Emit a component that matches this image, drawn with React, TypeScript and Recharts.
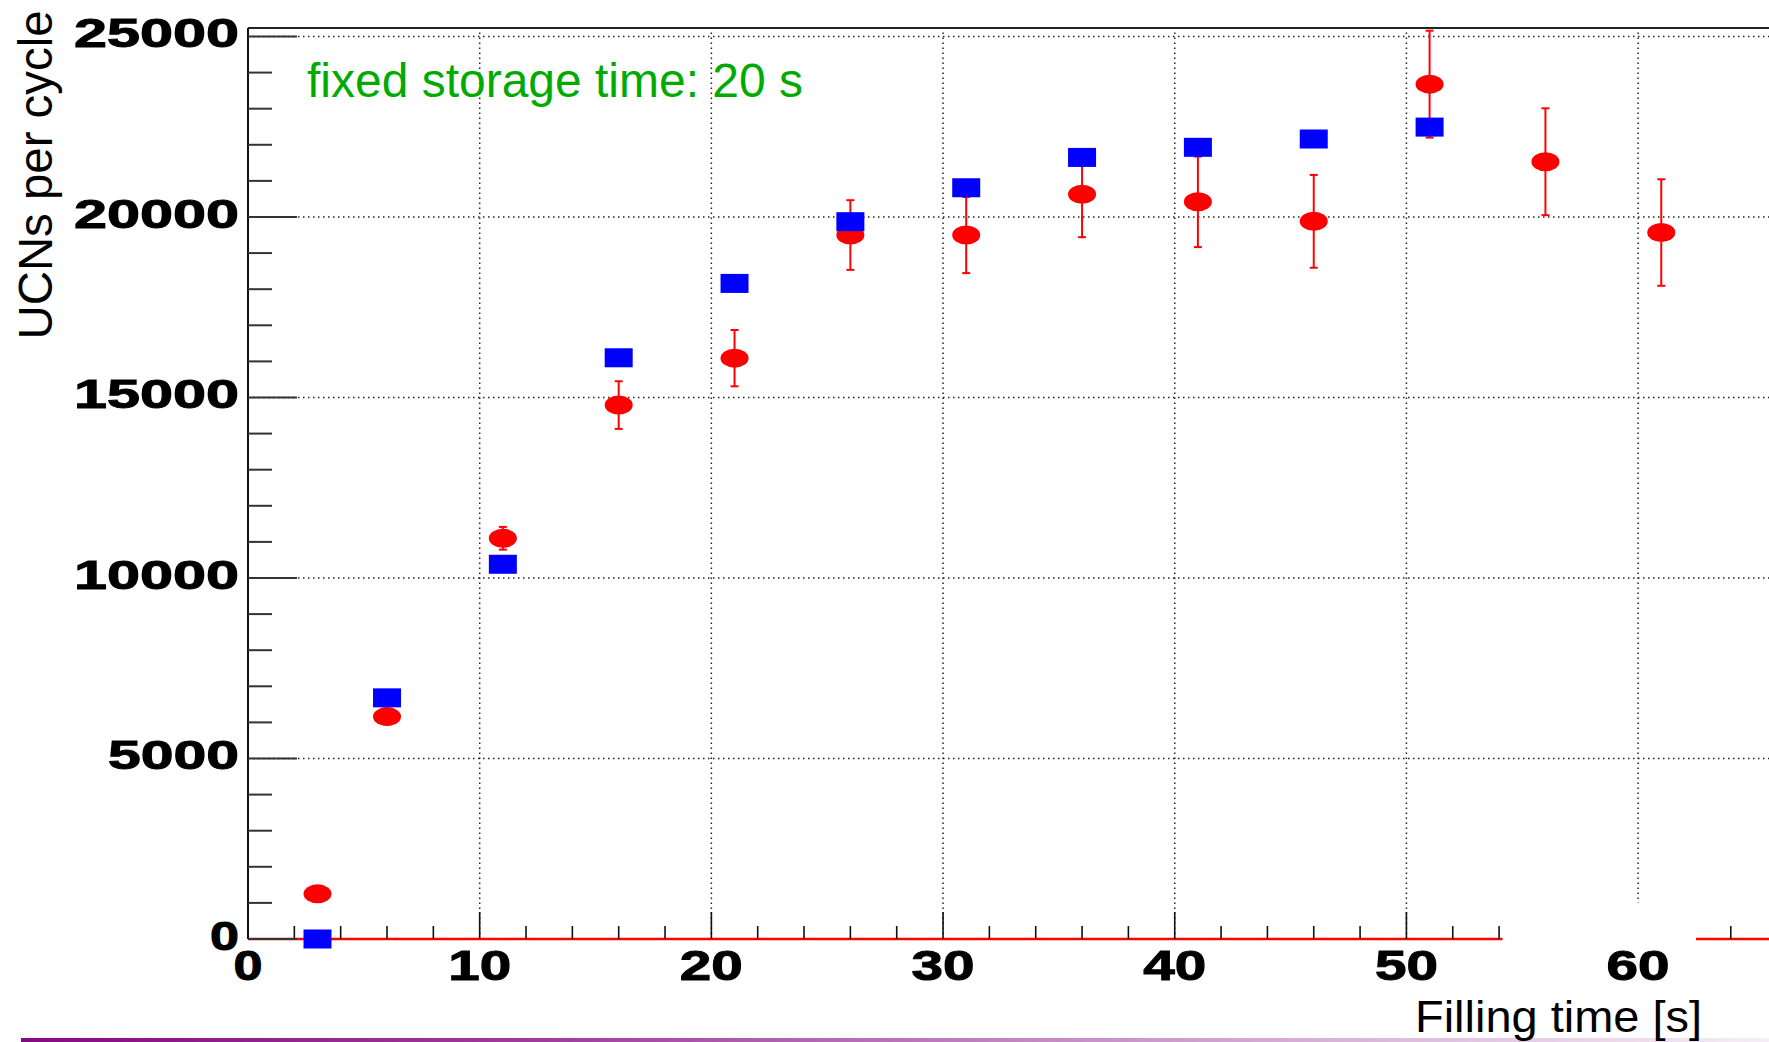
import {
  ScatterChart,
  Scatter,
  XAxis,
  YAxis,
  ErrorBar,
  ReferenceLine,
  ReferenceArea,
} from "recharts";

// blue squares (no error bars)
const blueTimes = [3, 6, 11, 16, 21, 26, 31, 36, 41, 46, 51];
const blueCounts = [0, 6680, 10380, 16100, 18160, 19870, 20810, 21650, 21930, 22160, 22490];

// red points with errors
const redTimes = [3, 6, 11, 16, 21, 26, 31, 36, 41, 46, 51, 56, 61];
const redCounts = [1250, 6160, 11100, 14790, 16090, 19500, 19500, 20630, 20420, 19880, 23680, 21530, 19570];
const redErrors = [200, 220, 315, 660, 780, 965, 1055, 1190, 1255, 1285, 1480, 1480, 1475];

const xTicks = [0, 2, 4, 6, 8, 10, 12, 14, 16, 18, 20, 22, 24, 26, 28, 30, 32, 34, 36, 38, 40, 42, 44, 46, 48, 50, 52, 54, 56, 58, 60, 62, 64];
const yTicks = [
  0, 1000, 2000, 3000, 4000, 5000, 6000, 7000, 8000, 9000, 10000, 11000, 12000, 13000,
  14000, 15000, 16000, 17000, 18000, 19000, 20000, 21000, 22000, 23000, 24000, 25000,
];
const xGrid = [10, 20, 30, 40, 50, 60];
const yGrid = [5000, 10000, 15000, 20000, 25000];

const X_MAX = 65.65;
const Y_MAX = 25235;

// the white patch that hides part of the x axis near 60 in the original
const patchX = [54.15, 62.5];
const patchY = [-200, 1000];

const blueData = blueTimes.map((x, i) => ({ x, y: blueCounts[i] }));
const redData = redTimes.map((x, i) => ({ x, y: redCounts[i], err: redErrors[i] }));

const FONT = "'Liberation Sans', Arial, Helvetica, sans-serif";

const XTick = (props: any) => {
  const { x, y, payload } = props;
  const v = payload.value as number;
  const major = v % 10 === 0;
  const inGap = v > patchX[0] && v < patchX[1];
  const label = String(v);
  return (
    <g>
      {!inGap && (
        <line x1={x} x2={x} y1={y} y2={y - (major ? 27 : 13)} stroke="#111" strokeWidth={1.6} />
      )}
      {major && (
        <text
          x={x}
          y={y + 41}
          textAnchor="middle"
          fontFamily={FONT}
          fontWeight="bold"
          fontSize={42}
          fill="#000"
          stroke="#000"
          strokeWidth={1}
          textLength={34 * label.length - 5}
          lengthAdjust="spacingAndGlyphs"
        >
          {label}
        </text>
      )}
    </g>
  );
};

const YTick = (props: any) => {
  const { x, y, payload } = props;
  const v = payload.value as number;
  const major = v % 5000 === 0;
  const label = String(v);
  return (
    <g>
      <line x1={x} x2={x + (major ? 49 : 24)} y1={y} y2={y} stroke="#333" strokeWidth={2} />
      {major && (
        <text
          x={x - 9}
          y={y + 11}
          textAnchor="end"
          fontFamily={FONT}
          fontWeight="bold"
          fontSize={41}
          fill="#000"
          stroke="#000"
          strokeWidth={1}
          textLength={34 * label.length - 5}
          lengthAdjust="spacingAndGlyphs"
        >
          {label}
        </text>
      )}
    </g>
  );
};

const RedMarker = (p: any) => <ellipse cx={p.cx} cy={p.cy} rx={14} ry={9.5} fill="#ff0000" />;
const BlueMarker = (p: any) => (
  <rect x={p.cx - 14} y={p.cy - 9.5} width={28} height={19} fill="#0000ff" />
);

export default function App() {
  return (
    <div style={{ position: "absolute", left: 0, top: 0, width: 1769, height: 1042, background: "#fff" }}>
      <ScatterChart width={1769} height={1042} margin={{ top: 28, right: 0, bottom: 0, left: 0 }}>
        <defs>
          <linearGradient id="slideBar" x1="0" y1="0" x2="1" y2="0">
            <stop offset="0" stopColor="#840a80" />
            <stop offset="0.3" stopColor="#a03c9e" />
            <stop offset="0.6" stopColor="#c68ec6" />
            <stop offset="0.85" stopColor="#e4cae4" />
            <stop offset="1" stopColor="#f6eef6" />
          </linearGradient>
        </defs>
        <XAxis
          type="number"
          dataKey="x"
          domain={[0, X_MAX]}
          ticks={xTicks}
          interval={0}
          height={103}
          tickSize={0}
          tickMargin={0}
          tickLine={false}
          axisLine={{ stroke: "#ff0000", strokeWidth: 2.5 }}
          tick={<XTick />}
        />
        <YAxis
          type="number"
          dataKey="y"
          domain={[0, Y_MAX]}
          ticks={yTicks}
          interval={0}
          width={248}
          tickSize={0}
          tickMargin={0}
          tickLine={false}
          axisLine={{ stroke: "#111", strokeWidth: 2 }}
          tick={<YTick />}
        />
        {xGrid.map((v) => (
          <ReferenceLine key={"gx" + v} x={v} stroke="#222" strokeWidth={1.5} strokeDasharray="1.5 3.5" zIndex={-50} />
        ))}
        {yGrid.map((v) => (
          <ReferenceLine key={"gy" + v} y={v} stroke="#222" strokeWidth={1.5} strokeDasharray="1.5 3.5" zIndex={-50} />
        ))}
        <ReferenceLine y={Y_MAX} stroke="#222" strokeWidth={2} />
        <Scatter data={redData} shape={RedMarker} isAnimationActive={false}>
          <ErrorBar dataKey="err" direction="y" width={4} stroke="#ff0000" strokeWidth={2} isAnimationActive={false} />
        </Scatter>
        <Scatter data={blueData} shape={BlueMarker} isAnimationActive={false} />
        <ReferenceArea
          x1={patchX[0]}
          x2={patchX[1]}
          y1={patchY[0]}
          y2={patchY[1]}
          ifOverflow="visible"
          fill="#ffffff"
          fillOpacity={1}
          stroke="none"
          zIndex={1500}
        />
        <text x={307} y={97} fontFamily={FONT} fontSize={48} fill="#00aa00" textLength={496} lengthAdjust="spacingAndGlyphs">
          fixed storage time: 20 s
        </text>
        <text
          x={52}
          y={175}
          transform="rotate(-90 52 175)"
          textAnchor="middle"
          fontFamily={FONT}
          fontSize={48}
          fill="#000"
          textLength={329}
          lengthAdjust="spacingAndGlyphs"
        >
          UCNs per cycle
        </text>
        <rect x={21} y={1038} width={1748} height={4} fill="url(#slideBar)" />
        <text x={1415} y={1032} fontFamily={FONT} fontSize={44} fill="#000" textLength={287} lengthAdjust="spacingAndGlyphs">
          Filling time [s]
        </text>
      </ScatterChart>
    </div>
  );
}
